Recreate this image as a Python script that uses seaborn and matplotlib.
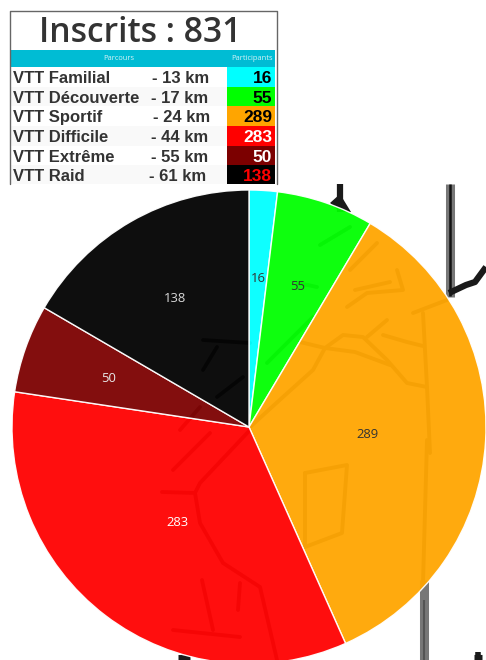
import matplotlib
matplotlib.use("Agg")
import numpy as np
import matplotlib.pyplot as plt
from matplotlib.patches import Rectangle
import seaborn as sns

sns.set_theme(style="white")
plt.rcParams["font.family"] = ["Open Sans", "DejaVu Sans"]

title = "Inscrits : 831"
headers = ["Parcours", "Participants"]
parcours = ["VTT Familial", "VTT Découverte", "VTT Sportif", "VTT Difficile", "VTT Extrême", "VTT Raid"]
distances = ["- 13 km", "- 17 km", "- 24 km", "- 44 km", "- 55 km", "- 61 km"]
participants = [16, 55, 289, 283, 50, 138]
colors = ["#00ffff", "#00ff00", "#ffa500", "#ff0000", "#7c0000", "#000000"]
table_text = ["black", "black", "black", "white", "white", "#ff0000"]
pie_text = ["#333333", "#333333", "#333333", "white", "#e8e8e8", "#d8d8d8"]

W, H = 486, 660
fig = plt.figure(figsize=(W / 100, H / 100), dpi=100, facecolor="white")

# scanned map behind the pie
bg = fig.add_axes([0, 0, 1, 1], zorder=0)
bg.set_xlim(0, W); bg.set_ylim(H, 0); bg.axis("off")
dark = dict(color="#1a1a1a", solid_capstyle="butt")
bg.plot([449.5, 449.5], [184, 297], lw=6.5, color="#777777", solid_capstyle="butt")
bg.plot([450, 450], [184, 296], lw=1.8, color="#111111", solid_capstyle="butt")
bg.plot([449, 466, 475, 486], [293, 285, 282, 267], lw=4.5, **dark)
bg.plot([340, 340], [184, 212], lw=4.5, **dark)
bg.fill([330, 340, 351, 340], [203, 194, 212, 212], color="#1a1a1a", lw=0)
bg.plot([424, 424], [580, 660], lw=6.5, color="#777777", solid_capstyle="butt")
bg.plot([424, 424], [600, 660], lw=1.5, color="#333333", solid_capstyle="butt", alpha=0.5)
bg.plot([474, 482], [660, 660], lw=8, **dark)
bg.plot([478, 478], [652, 660], lw=4, **dark)
bg.plot([178, 190], [658, 658], lw=5, **dark)
inner = [
    [(250, 427), (283, 397), (313, 370), (325, 348), (343, 335), (363, 337), (387, 360), (407, 383), (427, 387)],
    [(300, 342), (325, 348), (355, 352), (390, 365)],
    [(367, 337), (387, 320)],
    [(383, 335), (407, 342), (423, 346)],
    [(423, 313), (427, 387), (430, 453)],
    [(413, 313), (447, 300)],
    [(347, 307), (367, 293), (403, 290), (397, 270)],
    [(350, 270), (377, 243)],
    [(355, 290), (390, 282)],
    [(305, 473), (347, 465), (342, 533), (305, 547), (305, 473)],
    [(427, 440), (423, 583)],
    [(320, 245), (350, 227)],
    [(298, 283), (317, 287)],
    [(267, 363), (313, 317)],
    [(173, 470), (210, 433)],
    [(250, 430), (200, 483), (195, 493), (200, 523), (223, 563), (260, 587), (277, 660)],
    [(162, 492), (195, 493)],
    [(202, 580), (213, 630)],
    [(173, 630), (240, 637)],
    [(240, 583), (238, 610)],
    [(203, 340), (250, 343)],
    [(217, 347), (203, 370)],
    [(243, 377), (217, 397)],
    [(200, 407), (180, 430)],
]
for seg in inner:
    xs, ys = zip(*seg)
    bg.plot(xs, ys, lw=2.8, color="#666666", solid_capstyle="round")

# pie
R, cx, cy = 237, 249, 427
ax = fig.add_axes([(cx - R) / W, (H - cy - R) / H, 2 * R / W, 2 * R / H], zorder=1)
ax.patch.set_alpha(0)
wedges, _ = ax.pie(participants, colors=colors, startangle=90, counterclock=False,
                   radius=1, wedgeprops=dict(edgecolor="white", linewidth=1, alpha=0.945))
ax.set_xlim(-1, 1); ax.set_ylim(-1, 1)
ax.set_aspect("equal")
for w, v, c in zip(wedges, participants, pie_text):
    a = np.deg2rad((w.theta1 + w.theta2) / 2)
    r = 0.5 if v > 200 else 0.63
    ax.text(r * np.cos(a), r * np.sin(a) - 0.003, str(v), color=c, fontsize=9.4,
            ha="center", va="center")

# table image
t = fig.add_axes([0, 0, 1, 1], zorder=2)
t.set_xlim(0, W); t.set_ylim(H, 0); t.axis("off"); t.patch.set_alpha(0)
t.add_patch(Rectangle((9.5, 10.5), 267, 173.5, facecolor="white", edgecolor="none"))
t.plot([9.5, 9.5, 276.5, 276.5], [184, 10.5, 10.5, 184], color="#666666", lw=1)
t.add_patch(Rectangle((11, 50), 264, 17, facecolor="#00bcd4", edgecolor="none"))
t.text(119, 58.5, headers[0], color="#d5f3f7", fontsize=5.4, ha="center", va="center")
t.text(252, 58.5, headers[1], color="#d5f3f7", fontsize=5.4, ha="center", va="center")
t.text(140, 33, title, color="#333333", fontsize=24.2, fontweight="semibold", ha="center", va="center")
edges = [67, 87, 106, 126, 146, 165, 184]
km_x = [152, 151, 153, 151, 151, 149]
for i in range(6):
    y0, y1 = edges[i], edges[i + 1]
    yb = y0 + 16
    if i % 2:
        t.add_patch(Rectangle((11, y0), 216, y1 - y0, facecolor="#f9f9f9", edgecolor="none"))
    t.add_patch(Rectangle((227, y0), 48, y1 - y0, facecolor=colors[i], edgecolor="none"))
    for x, s in ((13, parcours[i]), (km_x[i], distances[i])):
        t.text(x, yb, s, color="#333333", fontsize=12, fontweight="bold",
               family="Liberation Sans", ha="left", va="baseline")
    t.text(272, yb, str(participants[i]), color=table_text[i], fontsize=12.5,
           fontweight="bold", family="Liberation Sans", ha="right", va="baseline")

fig.savefig("out.png", dpi=100)
